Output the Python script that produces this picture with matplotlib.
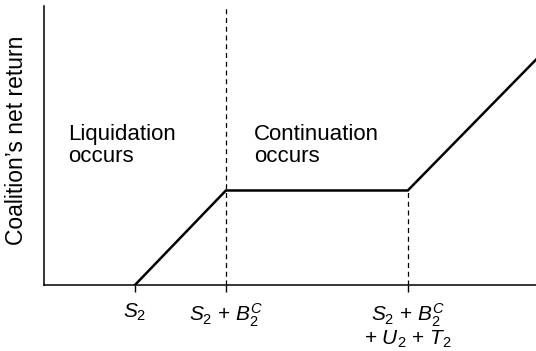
import matplotlib
matplotlib.use("Agg")
import matplotlib.pyplot as plt

plt.rcParams['font.family'] = ['Liberation Sans', 'DejaVu Sans']
plt.rcParams['mathtext.fontset'] = 'custom'
plt.rcParams['mathtext.rm'] = 'Liberation Sans'
plt.rcParams['mathtext.it'] = 'Liberation Sans:italic'
plt.rcParams['mathtext.bf'] = 'Liberation Sans:bold'

# Data (in arbitrary units)
x_points = [1.0, 2.0, 4.0, 5.41]
y_points = [0.0, 1.04, 1.04, 2.48]
tick_pos = [1.0, 2.0, 4.0]
tick_labels = ["$S_2$", "$S_2$ + $B_2^C$", "$S_2$ + $B_2^C$\n+ $U_2$ + $T_2$"]
dashed_x = [2.0, 4.0]
dashed_top = [3.07, 1.04]
region_labels = ["Liquidation\noccurs", "Continuation\noccurs"]
region_x = [0.26, 2.31]
region_y = [1.77, 1.77]

W, H = 536, 351
fig = plt.figure(figsize=(W / 100, H / 100), dpi=100)
ax = fig.add_axes([44 / W, (H - 285) / H, (536 - 44) / W, (285 - 6) / H])

ax.plot(x_points, y_points, color='black', lw=1.8, solid_joinstyle='miter')
for xd, yt in zip(dashed_x, dashed_top):
    ax.plot([xd, xd], [0, yt], color='black', lw=0.9, linestyle=(0, (4, 3)))

for t, xr, yr in zip(region_labels, region_x, region_y):
    ax.text(xr, yr, t, fontsize=16, ha='left', va='top', linespacing=1.05)

ax.set_xlim(0, 5.41)
ax.set_ylim(0, 3.07)
ax.set_xticks(tick_pos)
ax.set_xticklabels(tick_labels, fontsize=15, linespacing=1.0)
ax.set_yticks([])
ax.tick_params(axis='x', direction='out', length=5, width=1.0, pad=7)
ax.spines['top'].set_visible(False)
ax.spines['right'].set_visible(False)
ax.spines['left'].set_linewidth(1.1)
ax.spines['bottom'].set_linewidth(1.1)
ax.set_ylabel("Coalition’s net return", fontsize=16.5)
ax.yaxis.set_label_coords(-0.032, 0.52, transform=ax.transAxes)

fig.savefig("out.png", dpi=100)
